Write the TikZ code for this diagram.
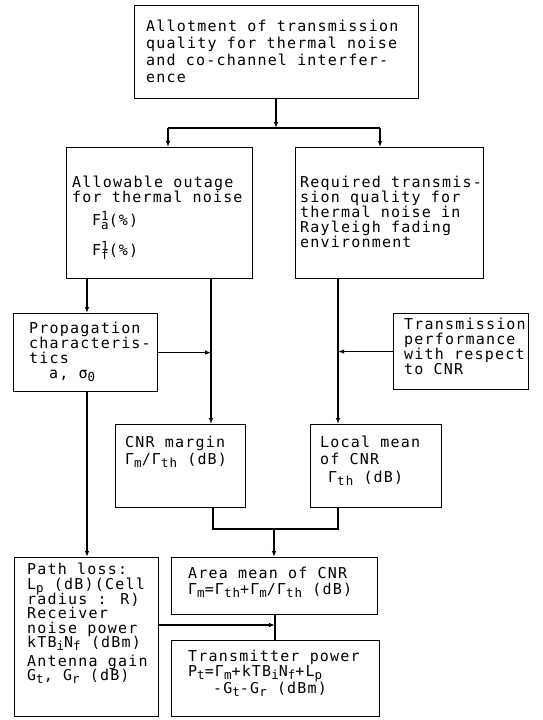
\documentclass[tikz,border=0pt]{standalone}
\usepackage{fontspec}
\newfontfamily\twfont[LetterSpace=8]{DejaVu Sans Mono}
\usetikzlibrary{arrows.meta}
\newcommand\dsub[1]{\raisebox{-3.3pt}{\fontsize{12.5}{12.5}\selectfont #1}}
\newcommand\dsup[1]{\raisebox{5.5pt}{\fontsize{12.5}{12.5}\selectfont #1}}
\lineskiplimit=-20pt
\begin{document}
\begin{tikzpicture}[x=1pt,y=-1pt,
  box/.style={draw, line width=1.1pt, inner sep=0pt, anchor=north west},
  txt/.style={anchor=north west, inner sep=0pt, align=left},
  sp/.style={font={\twfont\fontsize{15}{#1}\selectfont}},
  link/.style={line width=1.1pt},
  arr/.style={link, -{Latex[length=6pt,width=4.5pt]}}]
\useasboundingbox (0,0) rectangle (542,720);

% boxes
\node[box, minimum width=284pt, minimum height=93pt]  (top)    at (134,5)   {};
\node[box, minimum width=186pt, minimum height=131pt] (allow)  at (66,147)  {};
\node[box, minimum width=188pt, minimum height=131pt] (req)    at (295,147) {};
\node[box, minimum width=144pt, minimum height=78pt]  (prop)   at (13,313)  {};
\node[box, minimum width=135pt, minimum height=76pt]  (perf)   at (393,313) {};
\node[box, minimum width=130pt, minimum height=83pt]  (margin) at (115,424) {};
\node[box, minimum width=131pt, minimum height=83pt]  (local)  at (310,424) {};
\node[box, minimum width=144pt, minimum height=159pt] (path)   at (14,557)  {};
\node[box, minimum width=206pt, minimum height=57pt]  (area)   at (171,557) {};
\node[box, minimum width=208pt, minimum height=76pt]  (tx)     at (171,640) {};

% texts
\node[txt, sp=17] (topT) at (146,20) {Allotment of transmission\\quality for thermal noise\\and co-channel interfer-\\ence};
\node[txt, sp=15] (allowT) at (72,176) {Allowable outage\\for thermal noise};
\node[txt, sp=15] (allowF) at (92,211) {F\rlap{\dsup{1}}\dsub{a}(\%)\\[15pt]F\rlap{\dsup{1}}\dsub{f}(\%)};
\node[txt, sp=15] (reqT) at (300,176) {Required transmis-\\sion quality for\\thermal noise in\\Rayleigh fading\\environment};
\node[txt, sp=15] (propT) at (29,322) {Propagation\\characteris-\\tics\\\hspace*{20pt}a, σ\dsub{0}};
\node[txt, sp=15] (perfT) at (404,318) {Transmission\\performance\\with respect\\to CNR};
\node[txt, sp=17] (marginT) at (125,436) {CNR margin\\Γ\dsub{m}/Γ\dsub{th} (dB)};
\node[txt, sp=17] (localT) at (320,436) {Local mean\\of CNR\\[1pt]\hspace*{8pt}Γ\dsub{th} (dB)};
\node[txt, sp=14.5] (pathT) at (27,563) {Path loss:\\L\dsub{p} (dB)(Cell\\[0.5pt]radius : R)\\Receiver\\noise power\\kTB\dsub{i}N\dsub{f} (dBm)\\[4pt]Antenna gain\\G\dsub{t}, G\dsub{r} (dB)};
\node[txt, sp=16] (areaT) at (188,567) {Area mean of CNR\\Γ\dsub{m}=Γ\dsub{th}+Γ\dsub{m}/Γ\dsub{th} (dB)};
\node[txt, sp=15] (txT) at (188,650) {Transmitter power\\P\dsub{t}=Γ\dsub{m}+kTB\dsub{i}N\dsub{f}+L\dsub{p}\\[2pt]\hspace*{25pt}-G\dsub{t}-G\dsub{r} (dBm)};

% junction coordinates
\coordinate (j0) at (276,128);
\coordinate (jA) at (168,128);
\coordinate (jR) at (380,128);
\coordinate (xP) at (87,0);
\coordinate (xM) at (211,0);
\coordinate (xL) at (338,0);
\coordinate (xB) at (213,0);
\coordinate (jB) at (274,529);
\coordinate (jT) at (275,625);

% connectors
\draw[arr] (top.south -| j0) -- (j0);
\draw[link] (jA) -- (jR);
\draw[arr] (jA) -- (jA |- allow.north);
\draw[arr] (jR) -- (jR |- req.north);
\draw[arr] (allow.south -| xP) -- (prop.north -| xP);
\draw[arr] (allow.south -| xM) -- (margin.north -| xM);
\draw[arr] (prop.east) -- (prop.east -| xM);
\draw[arr] (req.south -| xL) -- (local.north -| xL);
\draw[arr] (perf.west) -- (perf.west -| xL);
\draw[arr] (prop.south -| xP) -- (path.north -| xP);
\draw[link] (margin.south -| xB) |- (jB) -| (local.south -| xL);
\draw[arr] (jB) -- (jB |- area.north);
\draw[link] (area.south -| jT) -- (jT);
\draw[arr] (path.east |- jT) -- (jT);
\draw[link] (jT) -- (jT |- tx.north);
\end{tikzpicture}
\end{document}
